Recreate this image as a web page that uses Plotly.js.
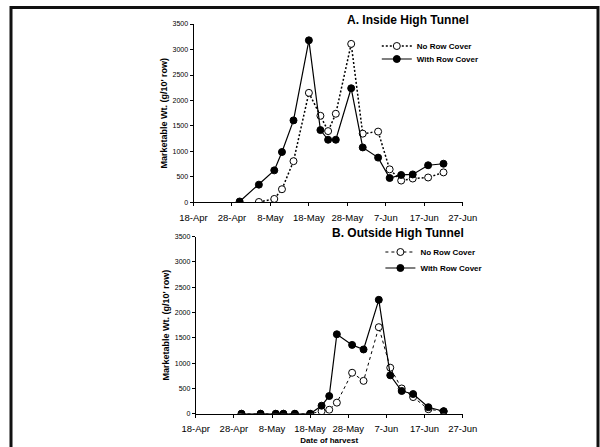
<!DOCTYPE html>
<html>
<head>
<meta charset="utf-8">
<script src="https://cdn.plot.ly/plotly-3.0.1.min.js"></script>
<style>html,body{margin:0;padding:0;background:#fff;}#chart{width:600px;height:447px;}</style>
</head>
<body>
<div id="chart"></div>
<script>
// Harvest dates (both panels)
const harvestDates = ['2009-04-30','2009-05-05','2009-05-09','2009-05-11','2009-05-14','2009-05-18','2009-05-21','2009-05-23','2009-05-25','2009-05-29','2009-06-01','2009-06-05','2009-06-08','2009-06-11','2009-06-14','2009-06-18','2009-06-22'];
// A. Inside High Tunnel
const insideNoDates = ['2009-05-05','2009-05-09','2009-05-11','2009-05-14','2009-05-18','2009-05-21','2009-05-23','2009-05-25','2009-05-29','2009-06-01','2009-06-05','2009-06-08','2009-06-11','2009-06-14','2009-06-18','2009-06-22'];
const insideNoCover = [10,70,260,810,2150,1700,1400,1740,3110,1350,1390,650,430,470,490,590];
const insideWithCover = [20,350,630,990,1610,3180,1420,1230,1230,2240,1080,880,480,540,550,730,760];
// B. Outside High Tunnel
const outsideNoCover = [0,0,0,0,0,0,50,80,220,810,650,1710,910,500,330,90,50];
const outsideWithCover = [0,0,0,0,0,0,160,350,1570,1360,1270,2250,760,450,390,130,50];
// Axis labels
const xTickFormat = '%-d-%b';
const seriesNames = ['No Row Cover','With Row Cover'];
const panelTitles = ['A. Inside High Tunnel','B. Outside High Tunnel'];
const yTitle = "Marketable Wt. (g/10' row)";
const xTitle = 'Date of harvest';

const FONT = 'Liberation Sans, Arial, sans-serif';
const openMarker = {symbol:'circle', size:7, color:'#ffffff', line:{color:'#000', width:1}};
const fillMarker = {symbol:'circle', size:7, color:'#000', line:{color:'#000', width:1}};

const traces = [
  {x:insideNoDates, y:insideNoCover, name:seriesNames[0], mode:'lines+markers', xaxis:'x', yaxis:'y',
   line:{color:'#000', width:1.5, dash:'2px,2px'}, marker:openMarker, legend:'legend'},
  {x:harvestDates, y:insideWithCover, name:seriesNames[1], mode:'lines+markers', xaxis:'x', yaxis:'y',
   line:{color:'#000', width:1.2}, marker:fillMarker, legend:'legend2'},
  {x:harvestDates, y:outsideNoCover, name:seriesNames[0], mode:'lines+markers', xaxis:'x2', yaxis:'y2',
   line:{color:'#000', width:1, dash:'3px,3px'}, marker:openMarker, legend:'legend3'},
  {x:harvestDates, y:outsideWithCover, name:seriesNames[1], mode:'lines+markers', xaxis:'x2', yaxis:'y2',
   line:{color:'#000', width:1.2}, marker:fillMarker, legend:'legend4'}
];

function xax(domain, title){
  const a = {type:'date', domain:domain, range:['2009-04-18','2009-06-27'], tick0:'2009-04-18', dtick:10*86400000,
    tickformat:xTickFormat, showline:true, linecolor:'#000', linewidth:1, ticks:'outside', ticklen:3, tickcolor:'#000',
    ticklabelstandoff:3,
    showgrid:false, zeroline:false, tickfont:{family:FONT, size:9.5, color:'#000'}, fixedrange:true};
  if (title) a.title = {text:title, font:{family:FONT, size:8, color:'#000', weight:'bold'}, standoff:4};
  return a;
}
function yax(domain, anchor){
  return {domain:domain, anchor:anchor, range:[0,3500], dtick:500, showline:true, linecolor:'#000', linewidth:1,
    ticks:'outside', ticklen:3, tickcolor:'#000', showgrid:false, zeroline:false,
    tickfont:{family:FONT, size:7, color:'#000'},
    title:{text:yTitle, font:{family:FONT, size:9, color:'#000', weight:'bold'}, standoff:3}};
}
function leg(x, y){
  return {x:x, y:y, xanchor:'left', yanchor:'middle', bgcolor:'rgba(0,0,0,0)', borderwidth:0,
    font:{family:FONT, size:8, color:'#000', weight:'bold'}};
}

const layout = {
  width:600, height:447, margin:{l:0, r:0, t:0, b:0}, paper_bgcolor:'#fff', plot_bgcolor:'rgba(0,0,0,0)',
  showlegend:true,
  xaxis: Object.assign(xax([0.3225, 0.7712]), {anchor:'y'}),
  yaxis: yax([0.5470, 0.9463], 'x'),
  xaxis2: Object.assign(xax([0.3262, 0.7712], xTitle), {anchor:'y2'}),
  yaxis2: yax([0.0743, 0.4709], 'x2'),
  legend: leg(0.628, 1 - 46/447),
  legend2: leg(0.628, 1 - 59/447),
  legend3: leg(0.634, 1 - 252/447),
  legend4: leg(0.634, 1 - 268/447),
  annotations: [
    {text:panelTitles[0], xref:'paper', yref:'paper', x:408/600, y:1 - 20/447, xanchor:'center', yanchor:'middle', showarrow:false,
     font:{family:FONT, size:12, color:'#000', weight:'bold'}},
    {text:panelTitles[1], xref:'paper', yref:'paper', x:398/600, y:1 - 233/447, xanchor:'center', yanchor:'middle', showarrow:false,
     font:{family:FONT, size:12, color:'#000', weight:'bold'}}
  ],
  shapes: [
    {type:'rect', xref:'paper', yref:'paper', x0:11/600, x1:598/600, y0:-0.05, y1:1 - 7.5/447,
     line:{color:'#111', width:3}, fillcolor:'rgba(0,0,0,0)', layer:'above'}
  ]
};

Plotly.newPlot('chart', traces, layout, {displayModeBar:false, staticPlot:true});
</script>
</body>
</html>
